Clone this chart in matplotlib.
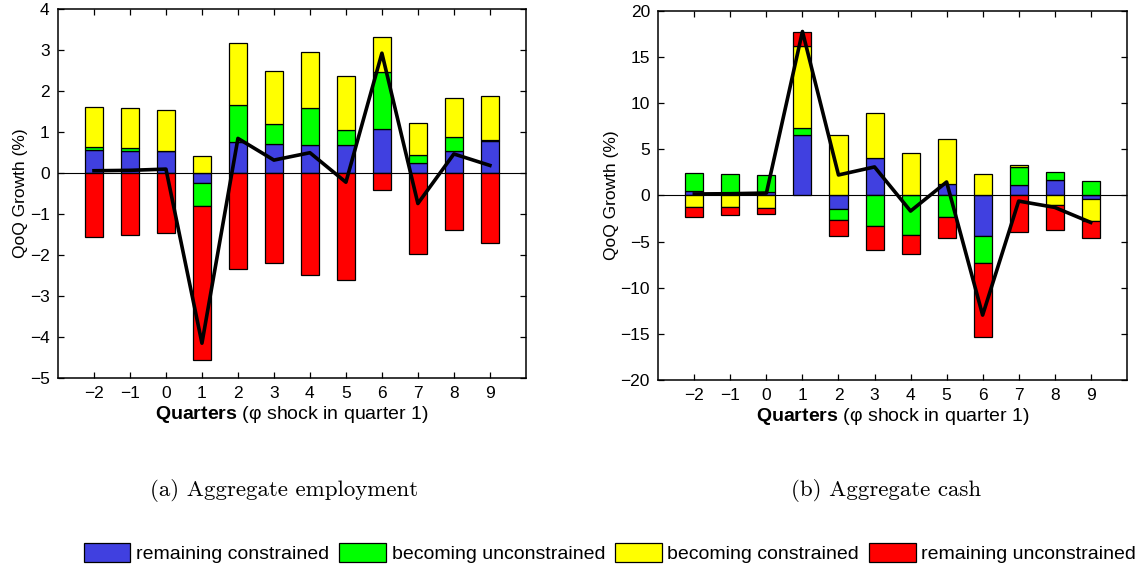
import numpy as np
import matplotlib
matplotlib.use("Agg")
import matplotlib.pyplot as plt
from matplotlib.patches import Patch

plt.rcParams['font.family'] = ['Liberation Sans', 'DejaVu Sans']
plt.rcParams['mathtext.fontset'] = 'custom'
plt.rcParams['mathtext.rm'] = 'Liberation Sans'
plt.rcParams['mathtext.bf'] = 'Liberation Sans:bold'

quarters = [-2, -1, 0, 1, 2, 3, 4, 5, 6, 7, 8, 9]
series_names = ['remaining constrained', 'becoming unconstrained',
                'becoming constrained', 'remaining unconstrained']

# (a) aggregate employment, contribution of each group (%)
emp_rem_con = [0.57, 0.53, 0.53, -0.24, 0.76, 0.72, 0.69, 0.69, 1.07, 0.24, 0.55, 0.78]
emp_bec_unc = [0.06, 0.08, 0.01, -0.56, 0.91, 0.48, 0.91, 0.36, 1.39, 0.20, 0.34, 0.02]
emp_bec_con = [0.98, 0.97, 1.00, 0.42, 1.50, 1.30, 1.37, 1.32, 0.86, 0.78, 0.95, 1.08]
emp_rem_unc = [-1.55, -1.52, -1.46, -3.76, -2.34, -2.18, -2.49, -2.60, -0.41, -1.97, -1.39, -1.70]
emp_total = [0.06, 0.07, 0.10, -4.15, 0.85, 0.32, 0.50, -0.22, 2.93, -0.74, 0.47, 0.19]

# (b) aggregate cash
cash_rem_con = [0.47, 0.05, 0.36, 6.52, -1.52, 4.02, 0.00, 1.27, -4.38, 1.12, 1.70, -0.43]
cash_bec_unc = [1.92, 2.27, 1.89, 0.73, -1.16, -3.30, -4.24, -2.39, -2.90, 1.96, 0.80, 1.56]
cash_bec_con = [-1.23, -1.30, -1.41, 8.91, 6.59, 4.86, 4.60, 4.85, 2.32, 0.22, -1.09, -2.40]
cash_rem_unc = [-1.09, -0.87, -0.66, 1.52, -1.74, -2.57, -2.14, -2.21, -8.01, -3.95, -2.64, -1.77]
cash_total = [0.15, 0.18, 0.25, 17.75, 2.21, 3.08, -1.70, 1.45, -12.97, -0.62, -1.30, -2.93]

colors = ['#4040E0', '#00FF00', '#FFFF00', '#FF0000']


def stacked_panel(ax, parts, total, ylim, yticks):
    x = np.array(quarters)
    pos = np.zeros(len(x))
    neg = np.zeros(len(x))
    for vals, col in zip(parts, colors):
        v = np.array(vals)
        base = np.where(v >= 0, pos, neg)
        ax.bar(x, v, width=0.5, bottom=base, color=col,
               edgecolor='black', linewidth=0.9, zorder=2)
        pos = pos + np.clip(v, 0, None)
        neg = neg + np.clip(v, None, 0)
    ax.axhline(0, color='black', linewidth=0.8, zorder=3)
    ax.plot(x, total, color='black', linewidth=2.6, zorder=4)

    ax.set_xlim(-3, 10)
    ax.set_ylim(*ylim)
    ax.set_xticks(x)
    ax.set_xticklabels([str(q).replace('-', '\u2212') for q in quarters])
    ax.set_yticks(yticks)
    ax.set_yticklabels([str(t).replace('-', '\u2212') for t in yticks])
    ax.tick_params(direction='in', length=4, width=0.9, labelsize=12.5,
                   top=True, right=True, pad=6)
    for s in ax.spines.values():
        s.set_linewidth(1.1)
    ax.set_ylabel('QoQ Growth (%)', fontsize=12.5, labelpad=1)
    ax.set_xlabel(r'$\mathbf{Quarters}$ (' + '\u03c6' + ' shock in quarter 1)',
                  fontsize=14, labelpad=2)


fig = plt.figure(figsize=(11.37, 5.70), dpi=100)
ax1 = fig.add_axes([0.051, 0.3368, 0.4115, 0.6468])
ax2 = fig.add_axes([0.579, 0.3333, 0.412, 0.6479])

stacked_panel(ax1, [emp_rem_con, emp_bec_unc, emp_bec_con, emp_rem_unc],
              emp_total, (-5, 4), list(range(-5, 5)))
stacked_panel(ax2, [cash_rem_con, cash_bec_unc, cash_bec_con, cash_rem_unc],
              cash_total, (-20, 20), list(range(-20, 21, 5)))

fig.text(0.250, 0.140, '(a) Aggregate employment', family='cmr10',
         fontsize=16.5, ha='center', va='center')
fig.text(0.7795, 0.140, '(b) Aggregate cash', family='cmr10',
         fontsize=16.5, ha='center', va='center')

handles = [Patch(facecolor=c, edgecolor='black', linewidth=0.9) for c in colors]
fig.legend(handles, series_names, loc='center', bbox_to_anchor=(0.5365, 0.03),
           ncol=4, frameon=False, fontsize=14, handlelength=2.4,
           handleheight=1.1, handletextpad=0.3, columnspacing=0.5,
           borderaxespad=0)

fig.savefig('out.png', dpi=100)
